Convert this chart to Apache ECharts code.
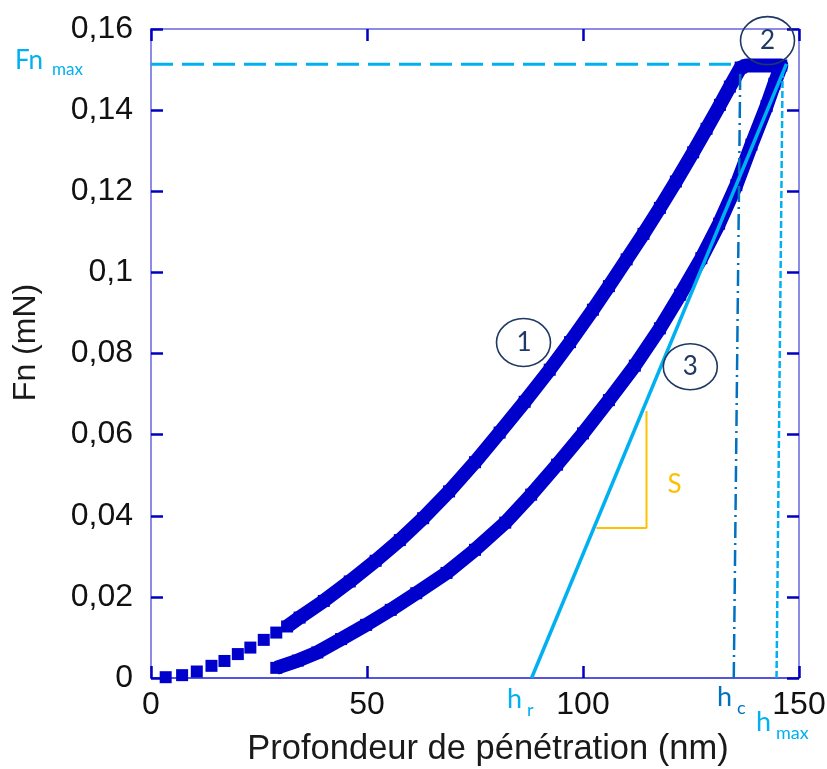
<!DOCTYPE html>
<html>
<head>
<meta charset="utf-8">
<script src="https://cdn.jsdelivr.net/npm/echarts@6/dist/echarts.min.js"></script>
<style>
html,body{margin:0;padding:0;background:#fff;}
#chart{width:827px;height:769px;}
</style>
</head>
<body>
<div id="chart"></div>
<script>
// ---- data ----
const xTicks = [0, 50, 100, 150];
const yTicks = [0, 0.02, 0.04, 0.06, 0.08, 0.1, 0.12, 0.14, 0.16];

// first, sparse load points (nm, mN)
const sparseDepth = [3.4, 7.2, 10.6, 14.0, 17.0, 20.1, 23.0, 26.1, 29.0];
const sparseForce = [0.0002, 0.0007, 0.0016, 0.0030, 0.0042, 0.0059, 0.0075, 0.0094, 0.0112];

// loading (1)
const loadDepth = [31.5, 34.4, 40.0, 46.0, 52.0, 57.6, 63.0, 69.0, 75.0, 80.7, 86.5, 92.3, 97.0, 102.3, 106.0, 110.1, 114.0, 117.8, 121.5, 125.5, 128.6, 131.7, 134.0, 136.5];
const loadForce = [0.0127, 0.0149, 0.0190, 0.0238, 0.0289, 0.0340, 0.0394, 0.0460, 0.0532, 0.0605, 0.0681, 0.0760, 0.0828, 0.0908, 0.0966, 0.1032, 0.1095, 0.1159, 0.1224, 0.1296, 0.1354, 0.1413, 0.1458, 0.1505];

// hold at Fn max (2)
const holdDepth = [137.9, 140.5, 143.0, 145.9];
const holdForce = [0.1510, 0.1510, 0.1510, 0.1510];

// unloading (3)
const unloadDepth = [144.3, 142.5, 139.0, 135.5, 131.5, 127.4, 122.5, 117.8, 112.0, 106.0, 100.0, 94.0, 88.0, 82.0, 75.0, 68.4, 61.4, 55.5, 49.8, 44.0, 38.5, 34.0, 29.0];
const unloadForce = [0.1465, 0.1410, 0.1315, 0.1215, 0.1120, 0.1035, 0.0945, 0.0862, 0.0770, 0.0685, 0.0603, 0.0526, 0.0452, 0.0383, 0.0316, 0.0259, 0.0209, 0.0168, 0.0131, 0.0096, 0.0063, 0.0043, 0.0025];

// construction lines
const fnMax = 0.1513;
const fnMaxDepth = [0, 136.5];
const tangentDepth = [88.1, 147.1];
const tangentForce = [0, 0.1514];
const hcDepth = [134.9, 136.4];
const hcForce = [0, 0.1500];
const hmaxDepth = [144.8, 146.2];
const hmaxForce = [0, 0.1489];
const sDepth = [103.1, 114.7, 114.7];
const sForce = [0.0370, 0.0370, 0.0658];

// ---- build ----
const zip = (a, b) => a.map((v, i) => [v, b[i]]);
const curve = zip(loadDepth, loadForce).concat(zip(holdDepth, holdForce), zip(unloadDepth, unloadForce));

const BLUE = '#0000cc';
const TICK = '#0000c0';
const FRAME = '#8c8ce6';
const LIGHT = '#00b0f0';
const MID = '#0070c0';
const NAVY = '#1f3864';
const ANN_FONT = 'Lato, "Open Sans", sans-serif';
const AX_FONT = '"Liberation Sans", Arial, sans-serif';

const fmt = v => String(+(+v).toFixed(2)).replace('.', ',');

const baseX = {
  type: 'value', min: xTicks[0], max: xTicks[xTicks.length - 1], interval: xTicks[1] - xTicks[0],
  splitLine: {show: false},
  axisTick: {show: true, inside: true, length: 12, lineStyle: {color: TICK, width: 2.5}}
};
const baseY = {
  type: 'value', min: yTicks[0], max: yTicks[yTicks.length - 1], interval: 0.02,
  splitLine: {show: false},
  axisTick: {show: true, inside: true, length: 12, lineStyle: {color: TICK, width: 2.5}}
};

const chart = echarts.init(document.getElementById('chart'), null, {renderer: 'canvas'});

const option = {
  animation: false,
  backgroundColor: '#fff',
  grid: {left: 151, right: 28, top: 29, bottom: 91, containLabel: false, outerBoundsMode: 'none'},
  xAxis: [
    Object.assign({}, baseX, {
      position: 'bottom',
      axisLine: {show: true, onZero: false, lineStyle: {color: '#1c1cd4', width: 1.5}},
      axisLabel: {fontSize: 32, color: '#111', fontFamily: AX_FONT, margin: 11},
      name: 'Profondeur de pénétration (nm)',
      nameLocation: 'middle', nameGap: 54,
      nameTextStyle: {fontSize: 34.5, color: '#1a1a1a', fontFamily: AX_FONT, padding: [0, 0, 0, 26]}
    }),
    Object.assign({}, baseX, {
      position: 'top',
      axisLine: {show: true, onZero: false, lineStyle: {color: FRAME, width: 2}},
      axisLabel: {show: false}
    })
  ],
  yAxis: [
    Object.assign({}, baseY, {
      position: 'left',
      axisLine: {show: true, onZero: false, lineStyle: {color: FRAME, width: 2}},
      axisLabel: {fontSize: 32, color: '#111', fontFamily: AX_FONT, margin: 18, formatter: fmt},
      name: 'Fn (mN)',
      nameLocation: 'middle', nameGap: 109,
      nameTextStyle: {fontSize: 32, color: '#1a1a1a', fontFamily: AX_FONT, padding: [0, 0, 0, 22]}
    }),
    Object.assign({}, baseY, {
      position: 'right',
      axisLine: {show: true, onZero: false, lineStyle: {color: FRAME, width: 2}},
      axisLabel: {show: false}
    })
  ],
  series: [
    {
      type: 'line', data: zip(fnMaxDepth, [fnMax, fnMax]), symbol: 'none', z: 3,
      lineStyle: {color: LIGHT, width: 3, type: [22, 9]}
    },
    {
      type: 'scatter', data: zip(sparseDepth, sparseForce), symbol: 'rect', symbolSize: 12,
      itemStyle: {color: BLUE, opacity: 1}, z: 4
    },
    {
      type: 'line', data: curve, symbol: 'rect', symbolSize: 12, showSymbol: true, showAllSymbol: true,
      itemStyle: {color: BLUE, opacity: 1, borderWidth: 0},
      lineStyle: {color: BLUE, width: 14, join: 'round', cap: 'butt'}, z: 4
    },
    {
      type: 'line', data: zip(hcDepth, hcForce), symbol: 'none', z: 6,
      lineStyle: {color: MID, width: 2.5, type: [16, 5, 2, 5]}
    },
    {
      type: 'line', data: zip(hmaxDepth, hmaxForce), symbol: 'none', z: 6,
      lineStyle: {color: LIGHT, width: 2.5, type: [7, 3]}
    },
    {
      type: 'line', data: zip(tangentDepth, tangentForce), symbol: 'none', z: 7,
      lineStyle: {color: LIGHT, width: 3.5}
    },
    {
      type: 'line', data: zip(sDepth, sForce), symbol: 'none', z: 6,
      lineStyle: {color: '#ffc000', width: 2}
    }
  ],
  graphic: [
    // circled phase numbers
    {type: 'ellipse', shape: {cx: 523.5, cy: 342.5, rx: 27, ry: 24}, style: {fill: 'none', stroke: NAVY, lineWidth: 1.6}, z: 10},
    {type: 'text', style: {text: '1', x: 524, y: 343, font: '26px ' + ANN_FONT, fill: NAVY, align: 'center', verticalAlign: 'middle'}, z: 10},
    {type: 'ellipse', shape: {cx: 767.5, cy: 40.6, rx: 27, ry: 24}, style: {fill: 'none', stroke: NAVY, lineWidth: 1.6}, z: 10},
    {type: 'text', style: {text: '2', x: 767.5, y: 41, font: '26px ' + ANN_FONT, fill: NAVY, align: 'center', verticalAlign: 'middle'}, z: 10},
    {type: 'ellipse', shape: {cx: 690.3, cy: 366.7, rx: 27, ry: 23}, style: {fill: 'none', stroke: NAVY, lineWidth: 1.6}, z: 10},
    {type: 'text', style: {text: '3', x: 690.3, y: 367, font: '26px ' + ANN_FONT, fill: NAVY, align: 'center', verticalAlign: 'middle'}, z: 10},
    // S
    {type: 'text', style: {text: 'S', x: 674.5, y: 484.5, font: '26px ' + ANN_FONT, fill: '#ffc000', align: 'center', verticalAlign: 'middle'}, z: 10},
    // Fn max
    {type: 'text', style: {text: 'Fn', x: 15, y: 60.5, font: '26px ' + ANN_FONT, fill: LIGHT, align: 'left', verticalAlign: 'middle'}, z: 10},
    {type: 'text', style: {text: 'max', x: 52, y: 69.5, font: '17px ' + ANN_FONT, fill: LIGHT, align: 'left', verticalAlign: 'middle'}, z: 10},
    // h r
    {type: 'text', style: {text: 'h', x: 507, y: 699.5, font: '27px ' + ANN_FONT, fill: LIGHT, align: 'left', verticalAlign: 'middle'}, z: 10},
    {type: 'text', style: {text: 'r', x: 527, y: 710, font: '18px ' + ANN_FONT, fill: LIGHT, align: 'left', verticalAlign: 'middle'}, z: 10},
    // h c
    {type: 'text', style: {text: 'h', x: 717, y: 697.5, font: '27px ' + ANN_FONT, fill: MID, align: 'left', verticalAlign: 'middle'}, z: 10},
    {type: 'text', style: {text: 'c', x: 737, y: 708, font: '18px ' + ANN_FONT, fill: MID, align: 'left', verticalAlign: 'middle'}, z: 10},
    // h max
    {type: 'text', style: {text: 'h', x: 756, y: 722.5, font: '27px ' + ANN_FONT, fill: LIGHT, align: 'left', verticalAlign: 'middle'}, z: 10},
    {type: 'text', style: {text: 'max', x: 776, y: 733, font: '18px ' + ANN_FONT, fill: LIGHT, align: 'left', verticalAlign: 'middle'}, z: 10}
  ]
};
chart.setOption(option);
</script>
</body>
</html>
